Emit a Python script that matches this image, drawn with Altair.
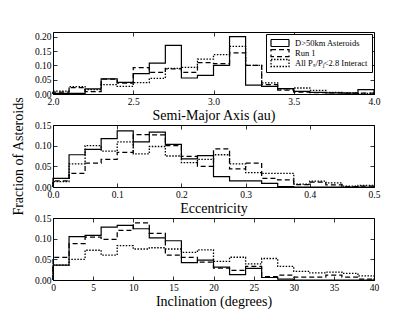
import altair as alt
import pandas as pd

SERIES = ["D>50km Asteroids", "Run 1", "All Pₛ/Pⱼ<2.8 Interact"]

# Panel 1: semi-major axis bins (au)
a_edges = [2.0, 2.1, 2.2, 2.3, 2.4, 2.5, 2.6, 2.7, 2.8, 2.9, 3.0,
           3.1, 3.2, 3.3, 3.4, 3.5, 3.6, 3.7, 3.8, 3.9, 4.0]
a_solid = [0.002, 0.002, 0.018, 0.053, 0.041, 0.071, 0.108, 0.170, 0.056, 0.065,
           0.100, 0.201, 0.031, 0.027, 0.019, 0.009, 0.006, 0.004, 0.003, 0.015]
a_dash = [0.007, 0.022, 0.008, 0.052, 0.038, 0.092, 0.076, 0.088, 0.076, 0.110,
          0.106, 0.144, 0.100, 0.033, 0.014, 0.007, 0.005, 0.004, 0.003, 0.003]
a_dot = [0.010, 0.026, 0.015, 0.033, 0.027, 0.040, 0.055, 0.090, 0.093, 0.122,
         0.138, 0.167, 0.100, 0.039, 0.018, 0.021, 0.013, 0.006, 0.004, 0.002]

# Panel 2: eccentricity bins
e_edges = [0.0, 0.025, 0.05, 0.075, 0.1, 0.125, 0.15, 0.175, 0.2, 0.225, 0.25,
           0.275, 0.3, 0.325, 0.35, 0.375, 0.4, 0.425, 0.45, 0.475, 0.5]
e_solid = [0.021, 0.078, 0.091, 0.117, 0.136, 0.109, 0.133, 0.103, 0.068, 0.076,
           0.025, 0.015, 0.015, 0.009, 0.001, 0.0, 0.0, 0.0, 0.0, 0.0]
e_dash = [0.015, 0.033, 0.058, 0.067, 0.084, 0.127, 0.126, 0.100, 0.074, 0.050,
          0.092, 0.044, 0.058, 0.021, 0.017, 0.006, 0.012, 0.005, 0.001, 0.002]
e_dot = [0.013, 0.056, 0.100, 0.087, 0.109, 0.080, 0.098, 0.075, 0.059, 0.067,
         0.078, 0.056, 0.035, 0.033, 0.033, 0.007, 0.014, 0.010, 0.002, 0.004]

# Panel 3: inclination bins (degrees)
i_edges = [0, 2, 4, 6, 8, 10, 12, 14, 16, 18, 20,
           22, 24, 26, 28, 30, 32, 34, 36, 38, 40]
i_solid = [0.036, 0.105, 0.108, 0.128, 0.132, 0.124, 0.102, 0.095, 0.042, 0.048,
           0.031, 0.013, 0.028, 0.006, 0.002, 0.0, 0.0, 0.0, 0.0, 0.0]
i_dash = [0.055, 0.088, 0.104, 0.098, 0.120, 0.138, 0.113, 0.060, 0.055, 0.043,
          0.029, 0.023, 0.033, 0.008, 0.012, 0.007, 0.007, 0.012, 0.007, 0.002]
i_dot = [0.036, 0.050, 0.072, 0.060, 0.083, 0.075, 0.078, 0.075, 0.067, 0.073,
         0.045, 0.055, 0.039, 0.052, 0.033, 0.021, 0.017, 0.019, 0.016, 0.010]

FONT = "Liberation Serif"


def step_table(edges, columns):
    rows = []
    for name, vals in zip(SERIES, columns):
        o = 0
        rows.append({"s": name, "x": edges[0], "y": 0.0, "o": o}); o += 1
        for k, v in enumerate(vals):
            rows.append({"s": name, "x": edges[k], "y": v, "o": o}); o += 1
        rows.append({"s": name, "x": edges[-1], "y": vals[-1], "o": o}); o += 1
        rows.append({"s": name, "x": edges[-1], "y": 0.0, "o": o}); o += 1
    return pd.DataFrame(rows)


def ax(orient, values, fmt=None, title=None, labels=True, tpad=4):
    kw = dict(orient=orient, values=values, offset=-4, tickSize=4, tickColor="black",
              tickWidth=0.8, domain=False, grid=False, labels=labels,
              labelFont=FONT, labelFontSize=9.5, labelColor="black",
              labelFlush=False, labelOverlap=False, labelPadding=2,
              titleFont=FONT, titleFontSize=14, titleFontWeight="normal",
              titleColor="black", titlePadding=tpad, title=title)
    if fmt:
        kw["format"] = fmt
    return alt.Axis(**kw)


def panel(df, xdom, xvals, xfmt, xtitle, ydom, yvals, ytitle, show_legend):
    xs = alt.Scale(domain=xdom, nice=False, zero=False)
    ys = alt.Scale(domain=ydom, nice=False, zero=False)
    if show_legend:
        leg = alt.Legend(orient="top-right", offset=2, title=None,
                         strokeColor="black", fillColor="white", padding=4,
                         cornerRadius=0, rowPadding=0, clipHeight=10,
                         labelFont=FONT, labelFontSize=8.5, labelColor="black",
                         labelLimit=300,
                         symbolType="M-1.8,-0.7H1.8V0.7H-1.8Z", symbolSize=100,
                         symbolOffset=4, labelOffset=9,
                         symbolStrokeColor="black", symbolFillColor="white",
                         symbolStrokeWidth=1)
    else:
        leg = None
    lines = alt.Chart(df).mark_line(interpolate="step-after", color="black").encode(
        x=alt.X("x:Q", scale=xs, axis=ax("bottom", xvals, xfmt, xtitle, tpad=3)),
        y=alt.Y("y:Q", scale=ys, axis=ax("left", yvals, ".2f", ytitle, tpad=9)),
        order="o:Q",
        strokeDash=alt.StrokeDash("s:N", scale=alt.Scale(
            domain=SERIES, range=[[1, 0], [5, 3], [1.5, 1.5]]), legend=leg, sort=SERIES),
        strokeWidth=alt.StrokeWidth("s:N", scale=alt.Scale(
            domain=SERIES, range=[1.2, 1.3, 2.0]), legend=leg, sort=SERIES),
    )
    ticks = alt.Chart(df).mark_point(opacity=0).encode(
        x=alt.X("x:Q", scale=xs, axis=ax("top", xvals, labels=False)),
        y=alt.Y("y:Q", scale=ys, axis=ax("right", yvals, labels=False)),
    )
    return alt.layer(lines, ticks).resolve_axis(x="independent", y="independent").properties(
        width=321, height=62)


p1 = panel(step_table(a_edges, [a_solid, a_dash, a_dot]), [2.0, 4.0],
           [2.0, 2.5, 3.0, 3.5, 4.0], ".1f", "Semi-Major Axis (au)",
           [0, 0.217], [0, 0.05, 0.10, 0.15, 0.20], None, True)
p2 = panel(step_table(e_edges, [e_solid, e_dash, e_dot]), [0, 0.5],
           [0, 0.1, 0.2, 0.3, 0.4, 0.5], ".1f", "Eccentricity",
           [0, 0.15], [0, 0.05, 0.10, 0.15], "Fraction of Asteroids", False)
p3 = panel(step_table(i_edges, [i_solid, i_dash, i_dot]), [0, 40],
           [0, 5, 10, 15, 20, 25, 30, 35, 40], "d", "Inclination (degrees)",
           [0, 0.15], [0, 0.05, 0.10, 0.15], None, False)

chart = alt.vconcat(p1, p2, p3, spacing=31, bounds="flush").resolve_scale(
    strokeDash="independent", strokeWidth="independent").resolve_legend(
    strokeDash="independent", strokeWidth="independent").properties(
    padding={"left": 2, "top": 23, "right": 5, "bottom": 5},
    background="white").configure_view(stroke="black", strokeWidth=1)

chart.save("out.html", embed_options={"renderer": "svg", "actions": False})
